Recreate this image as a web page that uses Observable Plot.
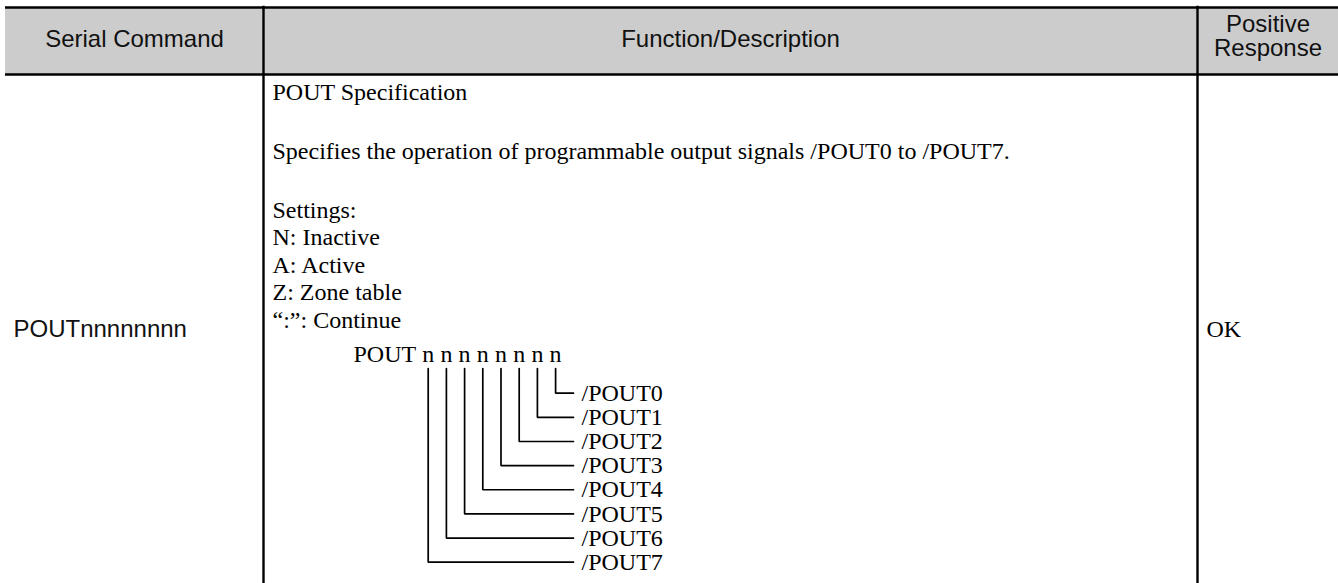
<!DOCTYPE html>
<html><head><meta charset="utf-8">
<script src="https://cdn.jsdelivr.net/npm/d3@7"></script>
<script src="https://cdn.jsdelivr.net/npm/@observablehq/plot@0.6"></script>
<style>html,body{margin:0;padding:0;background:#fff;} svg{display:block}</style>
</head><body><div id="chart"></div>
<script>
// ---------- content ----------
const headers = ["Serial Command", "Function/Description", "Positive\nResponse"];
const commands = ["POUTnnnnnnnn"];
const responses = ["OK"];
const descParagraphs = [
  ["POUT Specification"],
  ["Specifies the operation of programmable output signals /POUT0 to /POUT7."],
  ["Settings:", "N: Inactive", "A: Active", "Z: Zone table", "“:”: Continue"]
];
const formatPrefix = "POUT";
const formatDigits = ["n", "n", "n", "n", "n", "n", "n", "n"];
const bitLabels = ["/POUT0", "/POUT1", "/POUT2", "/POUT3", "/POUT4", "/POUT5", "/POUT6", "/POUT7"];

// ---------- layout ----------
const W = 1338, H = 583;
const colEdges = [5, 263, 1197, 1338];
const headTop = 7, headBottom = 74;
const FS = 24;
const SANS = "Liberation Sans, Arial, sans-serif";
const SERIF = "Liberation Serif, Times New Roman, serif";

const headerTexts = [];
const sansStart = [];
const serifStart = [];
const serifMiddle = [];

// header texts
headers.forEach((h, i) => {
  const lines = h.split("\n");
  const n = lines.length;
  const cx = (colEdges[i] + colEdges[i + 1]) / 2;
  lines.forEach((t, j) => headerTexts.push({text: t, x: cx, y: 46.2 - (n - 1) * 14.5 + j * 23.5}));
});
// body row
const rowBaseline = 336;
commands.forEach(t => sansStart.push({text: t, x: colEdges[0] + 8, y: rowBaseline}));
responses.forEach(t => serifStart.push({text: t, x: colEdges[2] + 9, y: rowBaseline}));

// description
const descX = colEdges[1] + 9;
let base = 99;
const pitch = 27.5, paraGap = 31.5;
descParagraphs.forEach((p, pi) => {
  p.forEach((t, j) => {
    serifStart.push({text: t, x: descX, y: base});
    if (j < p.length - 1) base += pitch;
  });
  if (pi < descParagraphs.length - 1) base += pitch + paraGap;
});

// format diagram
const fmtX = 353, fmtBaseline = 361;
serifStart.push({text: formatPrefix, x: fmtX, y: fmtBaseline});
const digitStep = 18.2;
const digitX0 = 427.7;
formatDigits.forEach((d, k) => serifMiddle.push({text: d, x: digitX0 + k * digitStep, y: fmtBaseline}));

const bracketTop = 368, bracketY0 = 392.7, bracketStep = 24.14, bracketEnd = 573, labelX = 581;
const bracketPts = [];
const labelTexts = [];
bitLabels.forEach((lab, i) => {
  const k = formatDigits.length - 1 - i;
  const x = digitX0 + k * digitStep;
  const y = bracketY0 + i * bracketStep;
  bracketPts.push({bit: lab, x, y: bracketTop}, {bit: lab, x, y}, {bit: lab, x: bracketEnd, y});
  labelTexts.push({text: lab, x: labelX, y});
});

const chart = Plot.plot({
  width: W, height: H, margin: 0,
  x: {domain: [0, W], range: [0, W], axis: null},
  y: {domain: [0, H], range: [0, H], axis: null},
  style: {background: "#fff"},
  marks: [
    Plot.rect([{}], {x1: colEdges[0], x2: colEdges[3], y1: headTop, y2: headBottom, fill: "#cccccc"}),
    Plot.ruleY([headTop, headBottom], {x1: colEdges[0], x2: colEdges[3], stroke: "#000", strokeWidth: 2.4}),
    Plot.ruleX([colEdges[1], colEdges[2]], {y1: headTop - 1.2, y2: H, stroke: "#000", strokeWidth: 2.4}),
    Plot.line(bracketPts, {x: "x", y: "y", z: "bit", stroke: "#000", strokeWidth: 1.7, strokeLinejoin: "miter", curve: "linear"}),
    Plot.text(headerTexts, {x: "x", y: "y", text: "text", textAnchor: "middle", lineAnchor: "bottom", fontFamily: SANS, fontSize: FS, fill: "#111"}),
    Plot.text(sansStart, {x: "x", y: "y", text: "text", textAnchor: "start", lineAnchor: "bottom", fontFamily: SANS, fontSize: FS, fill: "#111"}),
    Plot.text(serifStart, {x: "x", y: "y", text: "text", textAnchor: "start", lineAnchor: "bottom", fontFamily: SERIF, fontSize: FS, fill: "#000"}),
    Plot.text(serifMiddle, {x: "x", y: "y", text: "text", textAnchor: "middle", lineAnchor: "bottom", fontFamily: SERIF, fontSize: FS, fill: "#000"}),
    Plot.text(labelTexts, {x: "x", y: "y", text: "text", textAnchor: "start", lineAnchor: "middle", fontFamily: SERIF, fontSize: FS, fill: "#000"})
  ]
});
document.getElementById("chart").appendChild(chart);
</script></body></html>
